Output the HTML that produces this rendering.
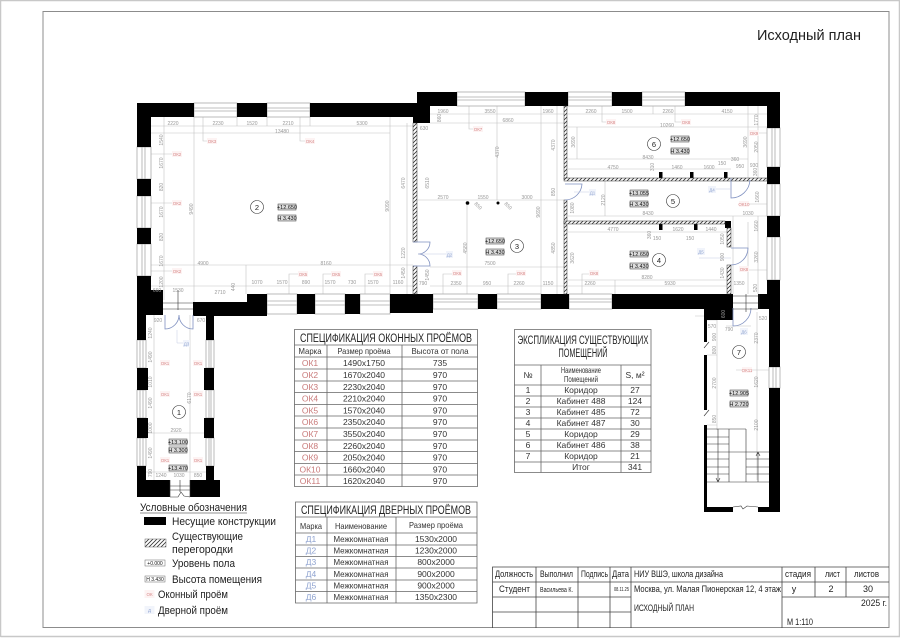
<!DOCTYPE html>
<html lang="ru"><head><meta charset="utf-8"><title>Исходный план</title>
<style>
html,body{margin:0;padding:0;background:#fff}
svg{display:block;font-family:"Liberation Sans Narrow","Liberation Sans","DejaVu Sans",sans-serif}
.d{font-size:5px;fill:#999;text-anchor:middle}
.r{font-size:4.5px;fill:#d88a8a;text-anchor:middle}
.b{font-size:4.5px;fill:#8fa3d0;text-anchor:middle}
.m{font-size:5.5px;fill:#111;text-anchor:middle}
.n{font-size:8px;fill:#222;text-anchor:middle}
.t{font-size:8.5px;fill:#333;text-anchor:middle}
.h{font-size:11.5px;fill:#222}
.l{font-size:11px;fill:#222}
.s{font-size:9px;fill:#222}
.c{text-anchor:middle}
.rd{fill:#c97a7a}.bl{fill:#8fa3d0}
</style></head><body>
<svg xmlns="http://www.w3.org/2000/svg" width="900" height="638" viewBox="0 0 900 638">
<defs><pattern id="ht" width="4" height="4" patternUnits="userSpaceOnUse"><rect width="4" height="4" fill="#fff"/><path d="M-1 5L5 -1M-1 1L1 -1M3 5L5 3" stroke="#333" stroke-width=".8"/></pattern></defs>
<rect width="900" height="638" fill="#fff"/>
<path d="M.5 637V.5H899.5V636.5H.5" fill="none" stroke="#c8c8c8" stroke-width="1.5"/>
<rect x="43" y="11.5" width="846" height="616" fill="none" stroke="#8c8c8c" stroke-width="1"/>
<text x="757" y="40" class="h" style="font-size:15px" textLength="104" lengthAdjust="spacingAndGlyphs">Исходный план</text>

<!-- thin gray dimension lines -->
<path d="M151 126H417M151 133H390M164 117V300M194 117V302M390 117V294M407 123V294M151 265H413M151 286H413M246 265V294M237 117V126M267 117V126M310 117V126M203 117V141H207M300 117V141H305M143 154H172M143 203H172M143 271H172M289 311V274H298M323 311V274H331M365 311V274H373M430 114H564M430 123H564M469 98V129H473M497 106V200M467 203V294M541 106V294M557 106V294M418 200H564M430 267H564M430 286H564M443 300V274H452M508 300V274H516M568 114H767M568 127H767M602 98V122H606M675 98V122H681M568 159H748M568 169H731M577 127V159M748 106V178M758 106V178M653 106V114M759 133H772M605 181V216M568 216H767M748 204H772M568 232H731M568 280H727M568 286H727M582 300V274H589M615 280V294M733 216V294M748 222V294M758 216V294M744 270H772M707 320H717M717 320V430M736 370H769M757 312V480M707 355H717M707 425H717M726 326H751M695 316H717" stroke="#c4c4c4" stroke-width=".6" fill="none"/>
<path d="M154 315V480M190 315V480M146 433H206M146 472H206" stroke="#c4c4c4" stroke-width=".6" fill="none"/>

<!-- windows -->
<g fill="#fff" stroke="#aaa" stroke-width=".8">
<rect x="194" y="103" width="43" height="14"/><rect x="267" y="103" width="43" height="14"/>
<rect x="457" y="92" width="68" height="14"/><rect x="568" y="92" width="44" height="14"/><rect x="642" y="92" width="43" height="14"/>
<rect x="267" y="294" width="30" height="20"/><rect x="315" y="294" width="30" height="20"/><rect x="360" y="294" width="30" height="20"/>
<rect x="433" y="294" width="45" height="15"/><rect x="497" y="294" width="44" height="15"/><rect x="569" y="294" width="43" height="15"/>
<rect x="137" y="147" width="14" height="32"/><rect x="137" y="196" width="14" height="32"/><rect x="137" y="244" width="14" height="32"/>
<rect x="767" y="128" width="13" height="39"/><rect x="767" y="184" width="13" height="32"/><rect x="767" y="237" width="13" height="43"/><rect x="769" y="367" width="11" height="21"/>
<rect x="137" y="340" width="9" height="28"/><rect x="137" y="390" width="9" height="28"/><rect x="137" y="438" width="9" height="28"/>
<rect x="206" y="340" width="8" height="28"/><rect x="206" y="390" width="8" height="28"/><rect x="206" y="438" width="8" height="28"/>
</g>
<path d="M194 108H237M194 111H237M267 108H310M267 111H310M457 97H525M457 100H525M568 97H612M568 100H612M642 97H685M642 100H685M267 301H297M267 305H297M315 301H345M315 305H345M360 301H390M360 305H390M433 299H478M433 302H478M497 299H541M497 302H541M569 299H612M569 302H612M142 147V179M145 147V179M142 196V228M145 196V228M142 244V276M145 244V276M772 128V167M775 128V167M772 184V216M775 184V216M772 237V280M775 237V280M773 367V388M776 367V388M140 340V368M143 340V368M140 390V418M143 390V418M140 438V466M143 438V466M209 340V368M211 340V368M209 390V418M211 390V418M209 438V466M211 438V466" stroke="#aaa" stroke-width=".8" fill="none"/>

<!-- load-bearing walls -->
<g fill="#000">
<rect x="137" y="103" width="57" height="14"/><rect x="237" y="103" width="30" height="14"/><rect x="310" y="103" width="120" height="14"/>
<rect x="417" y="92" width="40" height="14"/><rect x="525" y="92" width="43" height="14"/><rect x="612" y="92" width="30" height="14"/><rect x="685" y="92" width="95" height="14"/>
<rect x="413" y="106" width="17" height="17"/>
<rect x="137" y="103" width="14" height="44"/><rect x="137" y="179" width="14" height="17"/><rect x="137" y="228" width="14" height="16"/><rect x="137" y="276" width="14" height="26"/>
<rect x="137" y="290" width="26" height="25"/>
<rect x="193" y="302" width="74" height="14"/><rect x="247" y="294" width="20" height="20"/><rect x="297" y="294" width="18" height="20"/><rect x="345" y="294" width="15" height="20"/><rect x="390" y="294" width="43" height="19"/>
<rect x="478" y="294" width="19" height="15"/><rect x="541" y="294" width="28" height="15"/><rect x="612" y="294" width="121" height="15"/>
<rect x="704" y="309" width="29" height="11"/><rect x="717" y="294" width="16" height="15"/>
<rect x="758" y="294" width="22" height="15"/>
<rect x="767" y="106" width="13" height="22"/><rect x="767" y="167" width="13" height="17"/><rect x="767" y="216" width="13" height="21"/><rect x="767" y="280" width="13" height="15"/>
<rect x="769" y="295" width="11" height="72"/><rect x="769" y="388" width="11" height="124"/>
<rect x="704" y="320" width="3" height="22"/><rect x="704" y="355" width="3" height="55"/><rect x="704" y="425" width="3" height="87"/>
<rect x="704" y="507" width="29" height="5"/><rect x="758" y="507" width="22" height="5"/>
<rect x="137" y="315" width="9" height="25"/><rect x="137" y="368" width="11" height="22"/><rect x="137" y="418" width="11" height="20"/><rect x="137" y="466" width="9" height="14"/>
<rect x="206" y="315" width="8" height="25"/><rect x="204" y="368" width="10" height="22"/><rect x="204" y="418" width="10" height="20"/><rect x="206" y="466" width="8" height="14"/>
<rect x="137" y="480" width="33" height="17"/><rect x="190" y="480" width="30" height="17"/>
<rect x="659" y="172" width="3.5" height="8"/><rect x="690" y="172" width="3.5" height="8"/><rect x="724" y="172" width="3.5" height="8"/>
<rect x="659" y="221" width="3.5" height="9"/><rect x="694" y="221" width="3.5" height="9"/><rect x="725" y="221" width="6" height="7"/>
<circle cx="467.5" cy="203" r="1.8"/><circle cx="498" cy="203" r="1.5"/>
</g>

<!-- partitions -->
<g fill="url(#ht)" stroke="#333" stroke-width=".5">
<rect x="413" y="123" width="4" height="119"/><rect x="413" y="266" width="4" height="28"/>
<rect x="564" y="106" width="3" height="73"/><rect x="564" y="200" width="3" height="94"/>
<rect x="564" y="178" width="203" height="3"/><rect x="564" y="221" width="161" height="3"/>
<rect x="727" y="228" width="4" height="19"/><rect x="727" y="265" width="4" height="29"/>
</g>

<!-- doors -->
<path d="M413 242H430A12 12 0 0 1 418 254A12 12 0 0 1 430 266H413M565 184H582A17 17 0 0 1 565 200M731 178V198A19 19 0 0 0 750 180M731 248H748A17 17 0 0 1 731 265M733 308V326A18 18 0 0 0 751 308M165 315V329A14 14 0 0 0 179 315A14 14 0 0 0 193 329V315" fill="none" stroke="#7f90c0" stroke-width=".8"/>
<path d="M418 254H430M430 254H447M574 192H590M716 189H731M731 258H699M177 330V343H183" stroke="#c4cbe2" stroke-width=".5" fill="none"/>

<!-- stair strips and stairs -->
<path d="M163 303H193M163 309H193M178 290V310M170 480V497M190 480V497M170 486H190M170 490H190M180 480V492M170 497L178 497L181 492L184 496L190 497M733 296H758M733 303H758M746 294V312M733 309H758M759 294V309M707 429H746M707 437H729M707 444H729M707 452H769M707 459H729M707 467H729M707 474H729M707 482H769M746 459H769M746 467H769M746 474H769M718 429V482M729 429V482M746 429V482M758 452V482M718 482L716 478M718 482L720 478M758 452L756 456M758 452L760 456M733 507L741 506L743 509L747 506L758 507M704 348L709 342M704 416L709 410" fill="none" stroke="#333" stroke-width=".6"/>

<!-- tags -->
<g fill="#fdf3f3">
<rect x="207" y="138" width="10" height="6"/><rect x="305" y="138" width="10" height="6"/><rect x="172" y="151" width="10" height="6"/><rect x="172" y="200" width="10" height="6"/><rect x="172" y="268" width="10" height="6"/><rect x="298" y="271" width="10" height="6"/><rect x="331" y="271" width="10" height="6"/><rect x="373" y="271" width="10" height="6"/>
<rect x="473" y="126" width="10" height="6"/><rect x="452" y="270" width="10" height="6"/><rect x="516" y="270" width="10" height="6"/><rect x="606" y="119" width="10" height="6"/><rect x="681" y="119" width="10" height="6"/><rect x="749" y="130" width="10" height="6"/><rect x="739" y="201" width="10" height="6"/><rect x="589" y="270" width="10" height="6"/><rect x="739" y="266" width="10" height="6"/><rect x="742" y="367" width="10" height="6"/>
<rect x="160" y="360" width="10" height="6"/><rect x="193" y="360" width="10" height="6"/><rect x="160" y="391" width="10" height="6"/><rect x="193" y="391" width="10" height="6"/><rect x="160" y="457" width="10" height="6"/><rect x="193" y="457" width="10" height="6"/>
</g>
<g class="r">
<text class="r" x="212" y="143">ОК3</text><text class="r" x="310" y="143">ОК4</text><text class="r" x="177" y="156">ОК2</text><text class="r" x="177" y="205">ОК2</text><text class="r" x="177" y="273">ОК2</text><text class="r" x="303" y="276">ОК5</text><text class="r" x="336" y="276">ОК5</text><text class="r" x="378" y="276">ОК5</text>
<text class="r" x="478" y="131">ОК7</text><text class="r" x="457" y="275">ОК6</text><text class="r" x="521" y="275">ОК8</text><text class="r" x="611" y="124">ОК8</text><text class="r" x="686" y="124">ОК8</text><text class="r" x="754" y="135">ОК9</text><text class="r" x="744" y="206">ОК10</text><text class="r" x="594" y="275">ОК8</text><text class="r" x="744" y="271">ОК8</text><text class="r" x="747" y="372">ОК11</text>
<text class="r" x="165" y="365">ОК1</text><text class="r" x="198" y="365">ОК1</text><text class="r" x="165" y="396">ОК1</text><text class="r" x="198" y="396">ОК1</text><text class="r" x="165" y="462">ОК1</text><text class="r" x="198" y="462">ОК1</text>
</g>
<g fill="#f1f4fb">
<rect x="183" y="340" width="7" height="7"/><rect x="446" y="251" width="7" height="7"/><rect x="589" y="189" width="7" height="7"/><rect x="708" y="186" width="8" height="7"/><rect x="697" y="248" width="8" height="7"/><rect x="740" y="328" width="8" height="7"/>
</g>
<text class="b" x="186.500" y="345.500">Д3</text><text class="b" x="449.500" y="256.500">Д2</text><text class="b" x="592.500" y="194.500">Д1</text><text class="b" x="712" y="191.500">Д4</text><text class="b" x="701" y="253.500">Д5</text><text class="b" x="744" y="333.500">Д6</text>

<!-- room circles -->
<g fill="#fff" stroke="#333" stroke-width=".6">
<circle cx="257" cy="207" r="6.500"/><circle cx="517" cy="246" r="6.500"/><circle cx="654" cy="144" r="6.500"/><circle cx="673" cy="201" r="6.500"/><circle cx="659" cy="260" r="6.500"/><circle cx="739" cy="352" r="6.500"/><circle cx="179" cy="412" r="6.500"/>
</g>
<g style="font-size:7.500px;fill:#222;text-anchor:middle">
<text x="257" y="210">2</text><text x="517" y="249">3</text><text x="654" y="147">6</text><text x="673" y="204">5</text><text x="659" y="263">4</text><text x="739" y="355">7</text><text x="179" y="415">1</text>
</g>

<!-- level marks -->
<g fill="#dcdcdc" stroke="#333" stroke-width=".5">
<rect x="278" y="204" width="18" height="6"/><rect x="278" y="215" width="18" height="6"/>
<rect x="486" y="238" width="18" height="6"/><rect x="486" y="249" width="18" height="6"/>
<rect x="671" y="136" width="18" height="6"/><rect x="671" y="148" width="18" height="6"/>
<rect x="630" y="190" width="18" height="6"/><rect x="630" y="201" width="18" height="6"/>
<rect x="630" y="251" width="18" height="6"/><rect x="630" y="263" width="18" height="6"/>
<rect x="730" y="390" width="18" height="6"/><rect x="730" y="401" width="18" height="6"/>
<rect x="169" y="439" width="18" height="6"/><rect x="169" y="447" width="18" height="6"/>
<rect x="169" y="465" width="18" height="6"/>
</g>
<g class="m">
<text class="m" x="287" y="209">+12.650</text><text class="m" x="287" y="220">H 3.430</text>
<text class="m" x="495" y="243">+12.650</text><text class="m" x="495" y="254">H 3.430</text>
<text class="m" x="680" y="141">+12.650</text><text class="m" x="680" y="153">H 3.430</text>
<text class="m" x="639" y="195">+13.055</text><text class="m" x="639" y="206">H 3.430</text>
<text class="m" x="639" y="256">+12.650</text><text class="m" x="639" y="268">H 3.430</text>
<text class="m" x="739" y="395">+12.905</text><text class="m" x="739" y="406">H 2.720</text>
<text class="m" x="178" y="444">+13.100</text><text class="m" x="178" y="452">H 3.300</text>
<text class="m" x="178" y="470">+13.470</text>
</g>

<!-- dims -->
<g class="d">
<text class="d" x="173" y="125">2220</text><text class="d" x="218" y="125">2230</text><text class="d" x="252" y="125">1520</text><text class="d" x="288" y="125">2210</text><text class="d" x="362" y="125">5300</text><text class="d" x="282" y="133">13480</text>
<text class="d" x="203" y="265">4900</text><text class="d" x="326" y="265">8160</text>
<text class="d" x="157" y="292">660</text><text class="d" x="178" y="292">1530</text><text class="d" x="220" y="294">2710</text><text class="d" x="257" y="284">1070</text><text class="d" x="282" y="284">1570</text><text class="d" x="306" y="284">890</text><text class="d" x="330" y="284">1570</text><text class="d" x="352" y="284">730</text><text class="d" x="373" y="284">1570</text><text class="d" x="398" y="284">1160</text><text class="d" x="423" y="285">790</text>
<text class="d" x="443" y="113">1960</text><text class="d" x="490" y="113">3550</text><text class="d" x="548" y="113">1960</text><text class="d" x="508" y="122">6860</text><text class="d" x="424" y="130">630</text>
<text class="d" x="443" y="199">2570</text><text class="d" x="483" y="199">1550</text><text class="d" x="527" y="199">3000</text><text class="d" x="490" y="265">7500</text>
<text class="d" x="456" y="285">2350</text><text class="d" x="487" y="285">950</text><text class="d" x="519" y="285">2260</text><text class="d" x="548" y="285">1150</text>
<text class="d" x="591" y="113">2260</text><text class="d" x="627" y="113">1500</text><text class="d" x="668" y="113">2260</text><text class="d" x="727" y="113">4150</text><text class="d" x="667" y="127">10260</text>
<text class="d" x="648" y="159">8430</text><text class="d" x="613" y="169">4750</text><text class="d" x="677" y="169">1460</text><text class="d" x="709" y="169">1600</text><text class="d" x="722" y="165">150</text><text class="d" x="735" y="161">360</text><text class="d" x="740" y="168">950</text><text class="d" x="754" y="167">930</text>
<text class="d" x="648" y="215">8430</text><text class="d" x="748" y="215">1030</text>
<text class="d" x="613" y="231">4770</text><text class="d" x="678" y="231">1620</text><text class="d" x="711" y="231">1440</text><text class="d" x="657" y="240">150</text><text class="d" x="690" y="240">150</text>
<text class="d" x="647" y="279">8280</text><text class="d" x="590" y="285">2260</text><text class="d" x="670" y="285">5930</text><text class="d" x="739" y="285">1350</text>
<text class="d" x="158" y="322">920</text><text class="d" x="201" y="322">670</text><text class="d" x="176" y="432">2920</text><text class="d" x="161" y="477">1240</text><text class="d" x="179" y="477">1030</text><text class="d" x="198" y="477">850</text>
<text class="d" x="729" y="331">790</text><text class="d" x="763" y="320">520</text><text class="d" x="712" y="328">570</text>
</g>
<g class="d">
<text class="d" transform="translate(163 140) rotate(-90)">1540</text><text class="d" transform="translate(163 163) rotate(-90)">1670</text><text class="d" transform="translate(163 187) rotate(-90)">820</text><text class="d" transform="translate(163 212) rotate(-90)">1670</text><text class="d" transform="translate(163 237) rotate(-90)">820</text><text class="d" transform="translate(163 261) rotate(-90)">1670</text><text class="d" transform="translate(163 282) rotate(-90)">1200</text>
<text class="d" transform="translate(193 209) rotate(-90)">9490</text><text class="d" transform="translate(389 206) rotate(-90)">9090</text><text class="d" transform="translate(405 183) rotate(-90)">6470</text><text class="d" transform="translate(429 183) rotate(-90)">6510</text><text class="d" transform="translate(405 253) rotate(-90)">1220</text><text class="d" transform="translate(405 273) rotate(-90)">1450</text><text class="d" transform="translate(429 275) rotate(-90)">1450</text><text class="d" transform="translate(235 287) rotate(-90)">440</text>
<text class="d" transform="translate(441 118) rotate(-90)">860</text><text class="d" transform="translate(499 152) rotate(-90)">4370</text><text class="d" transform="translate(555 145) rotate(-90)">4370</text><text class="d" transform="translate(467 248) rotate(-90)">4580</text><text class="d" transform="translate(555 248) rotate(-90)">4850</text><text class="d" transform="translate(540 212) rotate(-90)">9690</text><text class="d" transform="translate(555 192) rotate(-90)">850</text>
<text class="d" transform="translate(477 207) rotate(45)">850</text><text class="d" transform="translate(507 207) rotate(45)">850</text>
<text class="d" transform="translate(575 142) rotate(-90)">3690</text><text class="d" transform="translate(747 142) rotate(-90)">3690</text><text class="d" transform="translate(758 120) rotate(-90)">1770</text><text class="d" transform="translate(758 147) rotate(-90)">2050</text><text class="d" transform="translate(654 167) rotate(-90)">310</text><text class="d" transform="translate(757 172) rotate(-90)">360</text>
<text class="d" transform="translate(605 200) rotate(-90)">2120</text><text class="d" transform="translate(574 208) rotate(-90)">1080</text><text class="d" transform="translate(759 197) rotate(-90)">1660</text><text class="d" transform="translate(574 258) rotate(-90)">3620</text><text class="d" transform="translate(651 235) rotate(-90)">360</text><text class="d" transform="translate(758 226) rotate(-90)">1660</text><text class="d" transform="translate(758 257) rotate(-90)">3260</text><text class="d" transform="translate(724 239) rotate(-90)">1050</text><text class="d" transform="translate(724 257) rotate(-90)">900</text><text class="d" transform="translate(724 273) rotate(-90)">1430</text><text class="d" transform="translate(757 288) rotate(-90)">520</text>
<text class="d" transform="translate(152 333) rotate(-90)">1240</text><text class="d" transform="translate(152 357) rotate(-90)">1490</text><text class="d" transform="translate(152 382) rotate(-90)">1010</text><text class="d" transform="translate(152 403) rotate(-90)">1490</text><text class="d" transform="translate(152 428) rotate(-90)">1000</text><text class="d" transform="translate(152 453) rotate(-90)">1490</text><text class="d" transform="translate(152 473) rotate(-90)">790</text><text class="d" transform="translate(191 398) rotate(-90)">6170</text>
<text class="d" transform="translate(725 314) rotate(-90)">600</text><text class="d" transform="translate(716 337) rotate(-90)">900</text><text class="d" transform="translate(716 350) rotate(-90)">800</text><text class="d" transform="translate(716 383) rotate(-90)">2700</text><text class="d" transform="translate(716 419) rotate(-90)">850</text><text class="d" transform="translate(758 338) rotate(-90)">2370</text><text class="d" transform="translate(758 382) rotate(-90)">1620</text><text class="d" transform="translate(758 425) rotate(-90)">2100</text>
</g>

<!-- window spec table -->
<path d="M294.500 329.500H477.500V486.500H294.500ZM294.500 345H477.500M294.500 357H477.500M294.500 369H477.500M294.500 381H477.500M294.500 392.500H477.500M294.500 404.500H477.500M294.500 416H477.500M294.500 428H477.500M294.500 440H477.500M294.500 451.500H477.500M294.500 463.500H477.500M294.500 475H477.500M327 345V486.500M402 345V486.500" fill="none" stroke="#666" stroke-width=".8"/>
<text x="386" y="342" class="h c" textLength="172" lengthAdjust="spacingAndGlyphs">СПЕЦИФИКАЦИЯ ОКОННЫХ ПРОЁМОВ</text>
<text x="310" y="354" class="t" textLength="23" lengthAdjust="spacingAndGlyphs">Марка</text><text x="364" y="354" class="t" textLength="53" lengthAdjust="spacingAndGlyphs">Размер проёма</text><text x="440" y="354" class="t" textLength="57" lengthAdjust="spacingAndGlyphs">Высота от пола</text>
<g class="t">
<text class="t rd" x="310" y="366">ОК1</text><text class="t" x="364" y="366">1490x1750</text><text class="t" x="440" y="366">735</text>
<text class="t rd" x="310" y="378">ОК2</text><text class="t" x="364" y="378">1670x2040</text><text class="t" x="440" y="378">970</text>
<text class="t rd" x="310" y="390">ОК3</text><text class="t" x="364" y="390">2230x2040</text><text class="t" x="440" y="390">970</text>
<text class="t rd" x="310" y="401.500">ОК4</text><text class="t" x="364" y="401.500">2210x2040</text><text class="t" x="440" y="401.500">970</text>
<text class="t rd" x="310" y="413.500">ОК5</text><text class="t" x="364" y="413.500">1570x2040</text><text class="t" x="440" y="413.500">970</text>
<text class="t rd" x="310" y="425">ОК6</text><text class="t" x="364" y="425">2350x2040</text><text class="t" x="440" y="425">970</text>
<text class="t rd" x="310" y="437">ОК7</text><text class="t" x="364" y="437">3550x2040</text><text class="t" x="440" y="437">970</text>
<text class="t rd" x="310" y="449">ОК8</text><text class="t" x="364" y="449">2260x2040</text><text class="t" x="440" y="449">970</text>
<text class="t rd" x="310" y="460.500">ОК9</text><text class="t" x="364" y="460.500">2050x2040</text><text class="t" x="440" y="460.500">970</text>
<text class="t rd" x="310" y="472.500">ОК10</text><text class="t" x="364" y="472.500">1660x2040</text><text class="t" x="440" y="472.500">970</text>
<text class="t rd" x="310" y="484">ОК11</text><text class="t" x="364" y="484">1620x2040</text><text class="t" x="440" y="484">970</text>
</g>

<!-- explication table -->
<path d="M514.500 329.500H651V472.500H514.500ZM514.500 365H651M514.500 385H651M514.500 396H651M514.500 407H651M514.500 418H651M514.500 429H651M514.500 440H651M514.500 451H651M514.500 462H651M541 365V472.500M621 365V472.500" fill="none" stroke="#666" stroke-width=".8"/>
<text x="583" y="344" class="h c" textLength="131" lengthAdjust="spacingAndGlyphs">ЭКСПЛИКАЦИЯ СУЩЕСТВУЮЩИХ</text><text x="583" y="357" class="h c" textLength="49" lengthAdjust="spacingAndGlyphs">ПОМЕЩЕНИЙ</text>
<text class="t" x="528" y="378">№</text><text class="t" x="581" y="373" textLength="40" lengthAdjust="spacingAndGlyphs">Наименование</text><text class="t" x="581" y="382" textLength="34" lengthAdjust="spacingAndGlyphs">Помещений</text><text class="t" x="635" y="378">S, м²</text>
<text class="t" x="528" y="393">1</text><text class="t" x="581" y="393">Коридор</text><text class="t" x="635" y="393">27</text>
<text class="t" x="528" y="404">2</text><text class="t" x="581" y="404">Кабинет 488</text><text class="t" x="635" y="404">124</text>
<text class="t" x="528" y="415">3</text><text class="t" x="581" y="415">Кабинет 485</text><text class="t" x="635" y="415">72</text>
<text class="t" x="528" y="426">4</text><text class="t" x="581" y="426">Кабинет 487</text><text class="t" x="635" y="426">30</text>
<text class="t" x="528" y="437">5</text><text class="t" x="581" y="437">Коридор</text><text class="t" x="635" y="437">29</text>
<text class="t" x="528" y="448">6</text><text class="t" x="581" y="448">Кабинет 486</text><text class="t" x="635" y="448">38</text>
<text class="t" x="528" y="459">7</text><text class="t" x="581" y="459">Коридор</text><text class="t" x="635" y="459">21</text>
<text class="t" x="581" y="470">Итог</text><text class="t" x="635" y="470">341</text>

<!-- door table -->
<path d="M295.500 502H477V603H295.500ZM295.500 517H477M295.500 533H477M295.500 545H477M295.500 556.500H477M295.500 568H477M295.500 580H477M295.500 591.500H477M327 517V603M396 517V603" fill="none" stroke="#666" stroke-width=".8"/>
<text x="386" y="514" class="h c" textLength="170" lengthAdjust="spacingAndGlyphs">СПЕЦИФИКАЦИЯ ДВЕРНЫХ ПРОЁМОВ</text>
<text class="t" x="311" y="529" textLength="22" lengthAdjust="spacingAndGlyphs">Марка</text><text class="t" x="361" y="529" textLength="52" lengthAdjust="spacingAndGlyphs">Наименование</text><text class="t" x="436" y="528" textLength="54" lengthAdjust="spacingAndGlyphs">Размер проёма</text>
<text class="t bl" x="311" y="542">Д1</text><text class="t" x="361" y="542" textLength="55" lengthAdjust="spacingAndGlyphs">Межкомнатная</text><text class="t" x="436" y="542">1530x2000</text>
<text class="t bl" x="311" y="553.500">Д2</text><text class="t" x="361" y="553.500" textLength="55" lengthAdjust="spacingAndGlyphs">Межкомнатная</text><text class="t" x="436" y="553.500">1230x2000</text>
<text class="t bl" x="311" y="565">Д3</text><text class="t" x="361" y="565" textLength="55" lengthAdjust="spacingAndGlyphs">Межкомнатная</text><text class="t" x="436" y="565">800x2000</text>
<text class="t bl" x="311" y="577">Д4</text><text class="t" x="361" y="577" textLength="55" lengthAdjust="spacingAndGlyphs">Межкомнатная</text><text class="t" x="436" y="577">900x2000</text>
<text class="t bl" x="311" y="588.500">Д5</text><text class="t" x="361" y="588.500" textLength="55" lengthAdjust="spacingAndGlyphs">Межкомнатная</text><text class="t" x="436" y="588.500">900x2000</text>
<text class="t bl" x="311" y="600">Д6</text><text class="t" x="361" y="600" textLength="55" lengthAdjust="spacingAndGlyphs">Межкомнатная</text><text class="t" x="436" y="600">1350x2300</text>

<!-- legend -->
<text x="140" y="511" class="l" textLength="107" lengthAdjust="spacingAndGlyphs">Условные обозначения</text>
<path d="M140 513H247" stroke="#222" stroke-width=".6"/>
<rect x="144" y="517" width="22" height="8" fill="#000"/>
<rect x="145" y="539" width="21" height="8" fill="url(#ht)" stroke="#666" stroke-width=".5"/>
<rect x="145" y="560" width="20" height="6" fill="#fff" stroke="#666" stroke-width=".5"/>
<rect x="145" y="576" width="20" height="6" fill="#fff" stroke="#666" stroke-width=".5"/>
<rect x="144.500" y="590" width="10" height="8" fill="#fdf3f3"/>
<rect x="144.500" y="606" width="10" height="8" fill="#f1f4fb"/>
<text class="m" x="155" y="565" style="font-size:5px">+0.000</text><text class="m" x="155" y="581" style="font-size:5px">H 3.430</text>
<text class="r" x="149.500" y="596">ОК</text><text class="b" x="149.500" y="612">Д</text>
<text x="172" y="525" class="l" textLength="104" lengthAdjust="spacingAndGlyphs">Несущие конструкции</text>
<text x="172" y="540" class="l" textLength="71" lengthAdjust="spacingAndGlyphs">Существующие</text>
<text x="172" y="553" class="l" textLength="61" lengthAdjust="spacingAndGlyphs">перегородки</text>
<text x="172" y="567" class="l" textLength="63" lengthAdjust="spacingAndGlyphs">Уровень пола</text>
<text x="172" y="583" class="l" textLength="90" lengthAdjust="spacingAndGlyphs">Высота помещения</text>
<text x="158" y="598" class="l" textLength="70" lengthAdjust="spacingAndGlyphs">Оконный проём</text>
<text x="158" y="614" class="l" textLength="70" lengthAdjust="spacingAndGlyphs">Дверной проём</text>

<!-- title block -->
<path d="M492.500 628V567H889M492.500 582H889M492.500 597H631M492.500 612H631M782 597H889M536 567V628M578 567V628M610 567V628M631 567V628M782 567V628M815 567V597M846 567V597" fill="none" stroke="#444" stroke-width=".8"/>
<g class="s">
<text class="s" x="495" y="577" textLength="38" lengthAdjust="spacingAndGlyphs">Должность</text>
<text class="s" x="540" y="577" textLength="33" lengthAdjust="spacingAndGlyphs">Выполнил</text>
<text class="s" x="581" y="577" textLength="27" lengthAdjust="spacingAndGlyphs">Подпись</text>
<text class="s" x="612" y="577" textLength="17" lengthAdjust="spacingAndGlyphs">Дата</text>
<text class="s" x="634" y="577" textLength="89" lengthAdjust="spacingAndGlyphs">НИУ ВШЭ, школа дизайна</text>
<text class="s" x="785" y="577" textLength="26" lengthAdjust="spacingAndGlyphs">стадия</text>
<text class="s" x="825" y="577" textLength="15" lengthAdjust="spacingAndGlyphs">лист</text>
<text class="s" x="854" y="577" textLength="25" lengthAdjust="spacingAndGlyphs">листов</text>
<text class="s" x="499" y="592" textLength="31" lengthAdjust="spacingAndGlyphs">Студент</text>
<text class="s" x="540" y="592" style="font-size:7px" textLength="33" lengthAdjust="spacingAndGlyphs">Васильева К.</text>
<text class="s" x="614" y="591" style="font-size:5px" textLength="15" lengthAdjust="spacingAndGlyphs">08.11.25</text>
<text class="s" x="634" y="592" textLength="147" lengthAdjust="spacingAndGlyphs">Москва, ул. Малая Пионерская 12, 4 этаж</text>
<text class="s c" x="794" y="592">у</text><text class="s c" x="831" y="592">2</text><text class="s c" x="868" y="592">30</text>
<text class="s" x="634" y="611" textLength="60" lengthAdjust="spacingAndGlyphs">ИСХОДНЫЙ ПЛАН</text>
<text class="s" x="861" y="606" textLength="26" lengthAdjust="spacingAndGlyphs">2025 г.</text>
<text class="s" x="787" y="625" textLength="26" lengthAdjust="spacingAndGlyphs">М 1:110</text>
</g>
</svg>
</body></html>
